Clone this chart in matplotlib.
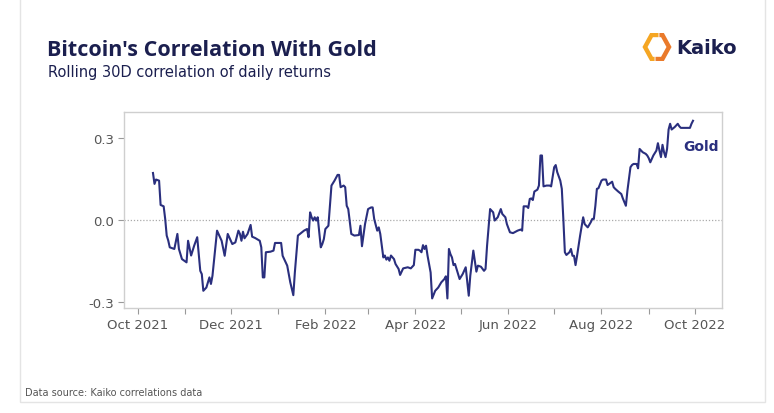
import numpy as np
import pandas as pd
import matplotlib
matplotlib.use("Agg")
import matplotlib.pyplot as plt
import matplotlib.dates as mdates
from matplotlib.patches import Rectangle

plt.rcParams["axes.unicode_minus"] = False
plt.rcParams["font.family"] = ["DejaVu Sans"]

# rolling 30D correlation BTC vs gold, day offsets from 2021-10-01
start_date = "2021-10-01"
days = [10, 11, 12, 14, 15, 17, 18, 19, 20, 21, 24, 26, 27, 29, 32, 33, 35, 37, 39, 41,
        42, 43, 45, 47, 48, 49, 52, 55, 57, 59, 61, 62, 64, 66, 67, 68, 69, 70, 72, 74,
        75, 77, 80, 81, 82, 83, 84, 87, 89, 90, 94, 95, 98, 100, 102, 103, 105, 107, 109, 111,
        112, 113, 114, 115, 116, 117, 118, 120, 121, 122, 123, 125, 126, 127, 129, 131, 132, 133, 135, 136,
        137, 138, 140, 142, 145, 146, 147, 149, 151, 153, 154, 155, 157, 158, 159, 161, 162, 163, 164, 165,
        166, 168, 169, 171, 172, 174, 177, 179, 181, 182, 184, 185, 186, 187, 188, 189, 190, 192, 193, 195,
        197, 199, 201, 202, 203, 204, 205, 206, 207, 208, 210, 211, 213, 215, 217, 218, 220, 222, 223, 225,
        227, 228, 229, 231, 233, 234, 236, 238, 239, 241, 242, 244, 246, 247, 249, 251, 252, 253, 255, 256,
        257, 258, 259, 260, 262, 263, 264, 265, 266, 268, 270, 271, 273, 274, 275, 277, 278, 279, 280, 281,
        283, 284, 285, 286, 287, 288, 290, 292, 293, 295, 297, 298, 299, 300, 301, 302, 304, 305, 307, 308,
        309, 311, 312, 313, 315, 317, 318, 320, 321, 323, 324, 325, 327, 328, 329, 331, 333, 334, 335, 336,
        338, 340, 341, 342, 343, 344, 345, 346, 347, 348, 349, 350, 352, 354, 355, 356, 358, 362, 363, 364]
gold = [0.172, 0.132, 0.148, 0.144, 0.055, 0.050, 0.004, -0.057, -0.075, -0.100, -0.106, -0.051, -0.106, -0.143, -0.155, -0.076, -0.130, -0.094, -0.063, -0.186,
        -0.198, -0.259, -0.247, -0.210, -0.234, -0.204, -0.039, -0.076, -0.131, -0.051, -0.076, -0.088, -0.082, -0.039, -0.051, -0.076, -0.043, -0.067, -0.051, -0.018,
        -0.061, -0.066, -0.076, -0.100, -0.210, -0.210, -0.118, -0.116, -0.112, -0.084, -0.084, -0.131, -0.167, -0.228, -0.275, -0.192, -0.057, -0.048, -0.039, -0.033,
        -0.063, 0.028, 0.010, -0.002, 0.010, -0.002, 0.010, -0.100, -0.088, -0.070, -0.033, -0.021, 0.052, 0.126, 0.144, 0.165, 0.165, 0.120, 0.126, 0.120,
        0.052, 0.040, -0.051, -0.057, -0.055, -0.021, -0.096, -0.015, 0.040, 0.046, 0.046, 0.004, -0.039, -0.027, -0.051, -0.137, -0.130, -0.145, -0.137, -0.149,
        -0.130, -0.143, -0.161, -0.179, -0.201, -0.177, -0.173, -0.177, -0.165, -0.109, -0.109, -0.112, -0.118, -0.092, -0.106, -0.094, -0.131, -0.192, -0.287, -0.259,
        -0.247, -0.228, -0.216, -0.206, -0.287, -0.106, -0.125, -0.137, -0.165, -0.161, -0.198, -0.216, -0.198, -0.173, -0.277, -0.204, -0.112, -0.189, -0.167, -0.171,
        -0.186, -0.179, -0.094, 0.040, 0.028, -0.002, 0.010, 0.040, 0.022, 0.010, -0.015, -0.045, -0.048, -0.045, -0.039, -0.035, -0.039, 0.050, 0.050, 0.044,
        0.077, 0.079, 0.073, 0.104, 0.111, 0.126, 0.236, 0.236, 0.123, 0.126, 0.126, 0.123, 0.193, 0.201, 0.175, 0.144, 0.114, 0.004, -0.118, -0.128,
        -0.118, -0.106, -0.131, -0.131, -0.165, -0.131, -0.057, 0.010, -0.015, -0.027, -0.008, 0.004, 0.004, 0.052, 0.114, 0.116, 0.144, 0.148, 0.148, 0.128,
        0.132, 0.140, 0.120, 0.114, 0.104, 0.095, 0.079, 0.052, 0.107, 0.193, 0.201, 0.205, 0.205, 0.189, 0.260, 0.248, 0.242, 0.236, 0.226, 0.211,
        0.236, 0.254, 0.281, 0.254, 0.230, 0.275, 0.248, 0.230, 0.260, 0.331, 0.352, 0.331, 0.340, 0.352, 0.343, 0.337, 0.337, 0.337, 0.352, 0.363]
yticks = [-0.3, 0.0, 0.3]

dates = pd.to_datetime(start_date) + pd.to_timedelta(days, unit="D")

navy = "#2a2f7e"
dark = "#1b1f4f"

fig = plt.figure(figsize=(7.74, 4.14), dpi=100)
fig.patch.set_facecolor("white")

# card border
fig.add_artist(Rectangle((0.0258, 0.0266), 0.9625, 1.2, transform=fig.transFigure,
                         fill=False, edgecolor="#e4e4e4", linewidth=1.0))

ax = fig.add_axes([0.1602, 0.2536, 0.7726, 0.4734])
ax.plot(dates, gold, color=navy, linewidth=1.5)
ax.axhline(0, color="#aaaaaa", linewidth=0.9, linestyle=(0, (1, 1.5)), zorder=0)

ax.set_xlim(pd.Timestamp("2021-09-22"), pd.Timestamp("2022-10-19"))
ax.set_ylim(-0.322, 0.395)
ax.set_yticks(yticks)
ax.yaxis.set_major_formatter(matplotlib.ticker.FormatStrFormatter("%.1f"))
ax.xaxis.set_major_locator(mdates.MonthLocator(bymonth=[2, 4, 6, 8, 10, 12]))
ax.xaxis.set_minor_locator(mdates.MonthLocator(bymonth=[1, 3, 5, 7, 9, 11]))
ax.xaxis.set_major_formatter(mdates.DateFormatter("%b %Y"))

for s in ax.spines.values():
    s.set_color("#cfcfcf")
    s.set_linewidth(1.0)
ax.tick_params(axis="both", which="both", color="#999999", length=4, width=0.8,
               labelsize=9.5, labelcolor="#555555", pad=3)

ax.annotate("Gold", xy=(dates[-1], gold[-1]), xytext=(6, -18), textcoords="offset points",
            ha="center", va="center", fontsize=10, fontweight="bold", color=navy)

# titles
fig.text(47 / 774, 1 - 50 / 414, "Bitcoin's Correlation With Gold", fontsize=15.5,
         fontweight="bold", color=dark, ha="left", va="center", family="Open Sans")
fig.text(48 / 774, 1 - 73 / 414, "Rolling 30D correlation of daily returns", fontsize=10.5,
         color=dark, ha="left", va="center")
fig.text(25 / 774, 1 - 393 / 414, "Data source: Kaiko correlations data", fontsize=7,
         color="#555555", ha="left", va="center")

# logo
lax = fig.add_axes([642 / 774, 1 - 62 / 414, 30 / 774, 28 / 414])
lax.set_xlim(0, 1)
lax.set_ylim(0, 1)
lax.axis("off")
lax.plot([0.55, 0.32, 0.1, 0.32, 0.42], [0.93, 0.93, 0.5, 0.07, 0.07],
         color="#f5a623", linewidth=3.2, solid_capstyle="butt", solid_joinstyle="miter")
lax.plot([0.45, 0.68, 0.9, 0.68, 0.58], [0.07, 0.07, 0.5, 0.93, 0.93],
         color="#ea7a2b", linewidth=3.2, solid_capstyle="butt", solid_joinstyle="miter")
fig.text(676 / 774, 1 - 48 / 414, "Kaiko", fontsize=14, fontweight="bold",
         color=dark, ha="left", va="center")

fig.savefig("out.png", dpi=100)
